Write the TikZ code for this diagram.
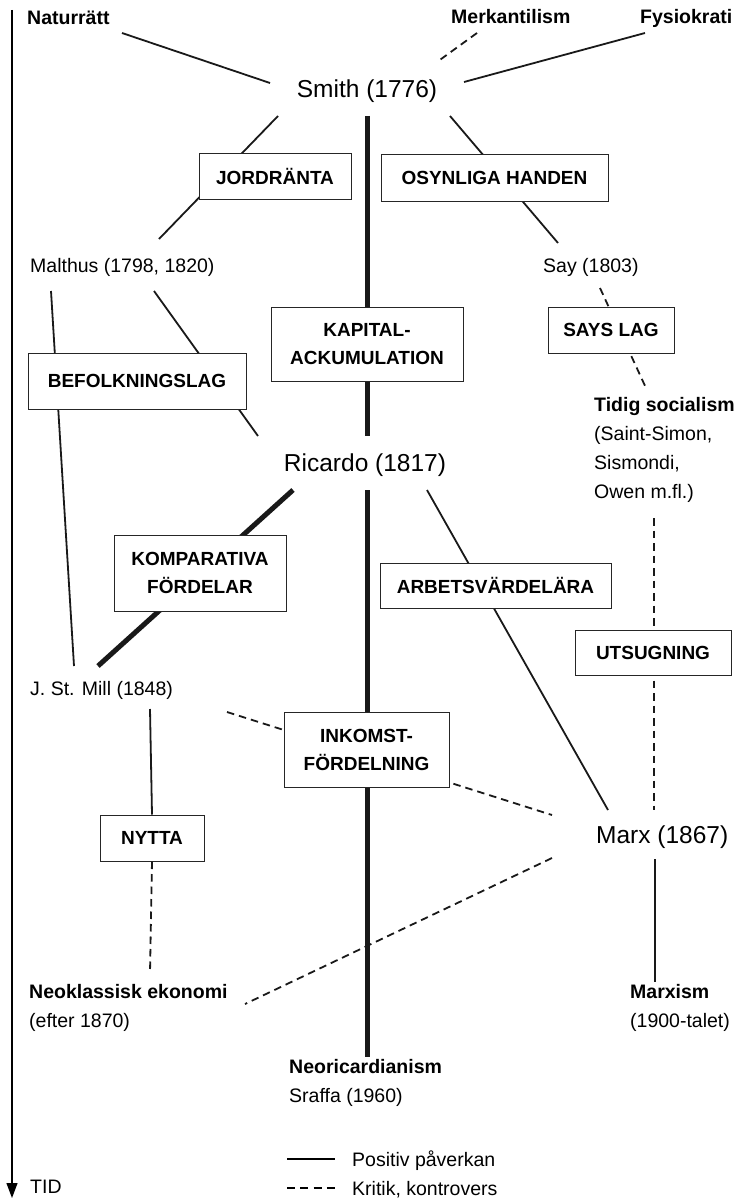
\documentclass[tikz,border=0pt]{standalone}
\usepackage{fontspec}
\setmainfont{Liberation Sans}
\usetikzlibrary{arrows.meta}
\newcommand\fBig{\fontsize{24.5}{29}\selectfont}
\newcommand\fReg{\fontsize{19.5}{29}\selectfont}
\newcommand\fBld{\fontsize{19.5}{29}\selectfont\bfseries}
\newcommand\fBox{\fontsize{19}{28}\selectfont\bfseries}
\begin{document}
\begin{tikzpicture}[x=1pt,y=-1pt,
  thinline/.style={line width=1.8pt, draw=black!90},
  thickline/.style={line width=5pt, draw=black!90},
  critline/.style={line width=1.8pt, draw=black!90, dash pattern=on 7.5pt off 5pt},
  conceptbox/.style={draw=black!85, line width=1pt, fill=white, inner sep=0pt, font=\fBox, align=center},
  txt/.style={inner sep=0pt, font=\fReg},
  bigtxt/.style={inner sep=0pt, font=\fBig},
  boldtxt/.style={inner sep=0pt, font=\fBld}]
\useasboundingbox (0,0) rectangle (737,1201);

% ---- connector end points ----
\coordinate (natA) at (122,33);   \coordinate (natB) at (270,83);
\coordinate (merA) at (477,33);   \coordinate (merB) at (437,62);
\coordinate (fysA) at (645,33);   \coordinate (fysB) at (464,82);
\coordinate (smL) at (278,116);   \coordinate (malT) at (159,239);
\coordinate (smR) at (450,116);   \coordinate (sayT) at (558,243);
\coordinate (smC) at (367,116);   \coordinate (ricT) at (367,436);
\coordinate (ricC) at (367,490);  \coordinate (neoT) at (367,1057);
\coordinate (malR) at (154,291);  \coordinate (ricTL) at (258,436);
\coordinate (malL) at (51,291);   \coordinate (millT) at (74,666);
\coordinate (sayB) at (600,288);  \coordinate (tidT) at (646,388);
\coordinate (ricBL) at (293,490); \coordinate (millTR) at (98,666);
\coordinate (ricBR) at (427,490); \coordinate (marxT) at (608,810);
\coordinate (tidB) at (654,518);  \coordinate (marxTR) at (654,810);
\coordinate (millR) at (227,712); \coordinate (marxL) at (552,815);
\coordinate (millB) at (150,709);
\coordinate (neoklT) at (150,973);
\coordinate (marxBL) at (552,858); \coordinate (neoklR) at (245,1004);
\coordinate (marxB) at (655,859);  \coordinate (marxismT) at (655,982);
\coordinate (legA1) at (287,1159); \coordinate (legA2) at (335,1159);
\coordinate (legB1) at (287,1188); \coordinate (legB2) at (335,1188);
\coordinate (axTop) at (12,10);    \coordinate (axBot) at (12,1198);

% ---- connectors (behind boxes) ----
\draw[thinline] (natA) -- (natB);
\draw[critline] (merA) -- (merB);
\draw[thinline] (fysA) -- (fysB);
\draw[thinline] (smL) -- (malT);
\draw[thinline] (smR) -- (sayT);
\draw[thickline] (smC) -- (ricT);
\draw[thickline] (ricC) -- (neoT);
\draw[thinline] (malR) -- (ricTL);
\draw[thinline] (malL) -- (millT);
\draw[critline] (sayB) -- (tidT);
\draw[thickline] (ricBL) -- (millTR);
\draw[thinline] (ricBR) -- (marxT);
\draw[critline] (tidB) -- (marxTR);
\draw[critline] (millR) -- (marxL);
\draw[critline] (marxBL) -- (neoklR);
\draw[thinline, line width=2pt] (marxB) -- (marxismT);

% ---- concept boxes ----
\node[conceptbox, minimum width=152pt, minimum height=45pt] (jord) at (275,176.5) {JORDRÄNTA};
\node[conceptbox, minimum width=227pt, minimum height=46pt] (osyn) at (494.5,178) {OSYNLIGA HANDEN};
\node[conceptbox, minimum width=192pt, minimum height=74pt] (kapital) at (367,344) {KAPITAL-\\ACKUMULATION};
\node[conceptbox, minimum width=126pt, minimum height=46pt] (sayslag) at (611,330) {SAYS LAG};
\node[conceptbox, minimum width=218pt, minimum height=56pt] (befolk) at (137,381) {BEFOLKNINGSLAG};
\node[conceptbox, minimum width=172pt, minimum height=76pt] (komp) at (200,573) {KOMPARATIVA\\FÖRDELAR};
\node[conceptbox, minimum width=231pt, minimum height=45pt] (arbets) at (495.5,585.5) {ARBETSVÄRDELÄRA};
\node[conceptbox, minimum width=156pt, minimum height=45pt] (utsug) at (653,652.5) {UTSUGNING};
\node[conceptbox, minimum width=165pt, minimum height=75pt] (inkomst) at (366.5,749.5) {INKOMST-\\FÖRDELNING};
\node[conceptbox, minimum width=104pt, minimum height=46pt] (nytta) at (152,838) {NYTTA};

\draw[thinline] (millB) -- (nytta.north);
\draw[critline] (nytta.south) -- (neoklT);

% ---- text nodes ----
\node[boldtxt, anchor=base west] (nat) at (27,25) {Naturrätt};
\node[boldtxt, anchor=base west] (merk) at (451,24) {Merkantilism};
\node[boldtxt, anchor=base west] (fys) at (640,24) {Fysiokrati};
\node[bigtxt, anchor=base] (smith) at (367,98) {Smith (1776)};
\node[txt, anchor=base west] (malthus) at (30,272) {Malthus (1798, 1820)};
\node[txt, anchor=base west] (say) at (543,272) {Say (1803)};
\node[bigtxt, anchor=base] (ricardo) at (365,471) {Ricardo (1817)};
\node[txt, anchor=north west, align=left] (tidig) at (594,397) {\textbf{Tidig socialism}\\(Saint-Simon,\\Sismondi,\\Owen m.fl.)};
\node[txt, anchor=base west] (mill) at (30,695) {J. St. Mill (1848)};
\node[bigtxt, anchor=base west] (marx) at (596,843) {Marx (1867)};
\node[txt, anchor=north west, align=left] (neokl) at (29,984) {\textbf{Neoklassisk ekonomi}\\(efter 1870)};
\node[txt, anchor=north west, align=left] (marxism) at (630,984) {\textbf{Marxism}\\(1900-talet)};
\node[txt, anchor=north west, align=left] (neoric) at (289,1059) {\textbf{Neoricardianism}\\Sraffa (1960)};

% ---- legend ----
\draw[line width=2pt] (legA1) -- (legA2);
\draw[line width=2pt, dash pattern=on 8pt off 5.3pt] (legB1) -- (legB2);
\node[txt, anchor=base west] (legpos) at (352,1166) {Positiv påverkan};
\node[txt, anchor=base west] (legkrit) at (352,1195) {Kritik, kontrovers};

% ---- time axis ----
\draw[line width=1.2pt, -{Triangle[width=11pt,length=15pt]}] (axTop) -- (axBot);
\node[txt, anchor=base west] (tid) at (30,1193) {TID};
\end{tikzpicture}
\end{document}
